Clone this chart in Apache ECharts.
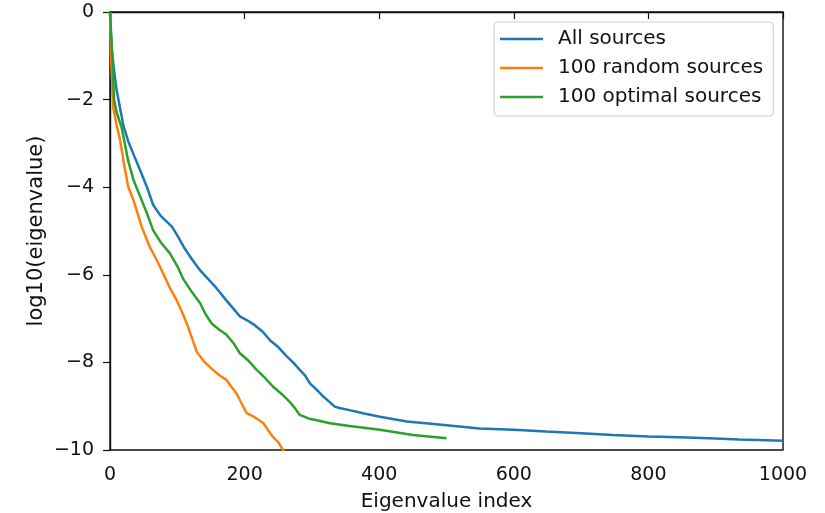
<!DOCTYPE html>
<html>
<head>
<meta charset="utf-8">
<script src="https://cdn.jsdelivr.net/npm/echarts@6/dist/echarts.min.js"></script>
<style>
  html, body { margin: 0; padding: 0; background: #fff; }
  #chart { width: 825px; height: 513px; }
</style>
</head>
<body>
<div id="chart"></div>
<script>
// series names
const seriesNames = ['All sources', '100 random sources', '100 optimal sources']

// All sources
const allX = [0, 1, 3, 5, 7, 10, 15, 20, 27, 35, 47, 55, 64, 75, 92, 100, 111, 122, 134, 146,
  158, 171, 182, 193, 205, 215, 227, 238, 250, 262, 272, 282, 290, 297, 307, 317, 326, 334, 341, 356,
  376, 401, 441, 485, 549, 600, 648, 700, 747, 800, 846, 900, 935, 1000]
const allY = [0, -0.4, -0.9, -1.2, -1.45, -1.8, -2.2, -2.6, -2.95, -3.25, -3.7, -4.0, -4.4, -4.65, -4.9, -5.1, -5.4, -5.65, -5.9, -6.1,
  -6.3, -6.55, -6.75, -6.95, -7.05, -7.15, -7.3, -7.5, -7.65, -7.85, -8.0, -8.17, -8.3, -8.48, -8.62, -8.78, -8.9, -9.01, -9.04, -9.09,
  -9.16, -9.24, -9.35, -9.41, -9.51, -9.54, -9.58, -9.62, -9.66, -9.69, -9.71, -9.74, -9.76, -9.79]

// 100 random sources
const randomX = [0, 2, 5, 10, 15, 20, 27, 35, 47, 59, 69, 79, 89, 99, 107, 114, 122, 129, 141, 153,
  163, 173, 180, 188, 196, 203, 215, 228, 235, 242, 250, 257, 262]
const randomY = [0, -1.2, -2.2, -2.6, -2.92, -3.4, -3.99, -4.3, -4.9, -5.36, -5.65, -5.97, -6.3, -6.58, -6.85, -7.11, -7.45, -7.76, -8.0, -8.17,
  -8.3, -8.4, -8.55, -8.71, -8.95, -9.16, -9.25, -9.39, -9.55, -9.7, -9.82, -10.0, -10.1]

// 100 optimal sources
const optimalX = [0, 2, 4, 6, 10, 17, 22, 27, 35, 45, 55, 64, 75, 89, 100, 109, 122, 134, 142, 151,
  162, 173, 183, 193, 205, 218, 230, 242, 255, 267, 275, 282, 295, 307, 327, 356, 401, 450, 500]
const optimalY = [0, -0.6, -1.2, -2.0, -2.3, -2.62, -3.0, -3.4, -3.84, -4.22, -4.6, -4.98, -5.25, -5.51, -5.8, -6.1, -6.4, -6.65, -6.9, -7.11,
  -7.25, -7.37, -7.55, -7.79, -7.95, -8.17, -8.35, -8.55, -8.72, -8.9, -9.05, -9.2, -9.28, -9.32, -9.39, -9.45, -9.54, -9.66, -9.73]

const colorList = ['#1f77b4', '#ff7f0e', '#2ca02c']
const font = 'DejaVu Sans'

const zip = (xs, ys) => xs.map((x, i) => [x, ys[i]])

const chart = echarts.init(document.getElementById('chart'))
chart.setOption({
  animation: false,
  grid: {
    left: 110,
    right: 42,
    top: 12,
    bottom: 63,
    outerBoundsMode: 'none',
    containLabel: false,
    show: true,
    borderColor: '#111',
    borderWidth: 1.4
  },
  legend: {
    orient: 'vertical',
    left: 494,
    top: 22,
    icon: 'rect',
    itemWidth: 43,
    itemHeight: 2.5,
    itemGap: 9,
    padding: [7, 10, 9, 6],
    borderColor: '#cccccc',
    borderWidth: 1,
    borderRadius: 4,
    backgroundColor: '#fff',
    textStyle: {
      fontFamily: font,
      fontSize: 20,
      color: '#111',
      padding: [0, 0, 0, 10]
    },
    data: seriesNames
  },
  xAxis: {
    type: 'value',
    min: 0,
    max: 1000,
    interval: 200,
    name: 'Eigenvalue index',
    nameLocation: 'middle',
    nameGap: 42,
    nameMoveOverlap: false,
    nameTextStyle: { fontFamily: font, fontSize: 20, color: '#111' },
    axisLine: { lineStyle: { color: '#111', width: 1.4 } },
    axisTick: { length: 7, lineStyle: { color: '#111', width: 1.2 } },
    axisLabel: {
      fontFamily: font,
      fontSize: 19,
      color: '#111',
      margin: 16,
      formatter: v => String(v)
    },
    splitLine: { show: false }
  },
  yAxis: {
    type: 'value',
    min: -10,
    max: 0,
    interval: 2,
    name: 'log10(eigenvalue)',
    nameLocation: 'middle',
    nameGap: 63,
    nameMoveOverlap: false,
    nameTextStyle: { fontFamily: font, fontSize: 21, color: '#111' },
    axisLine: { show: true, lineStyle: { color: '#111', width: 1.4 } },
    axisTick: { show: true, length: 7, lineStyle: { color: '#111', width: 1.2 } },
    axisLabel: {
      fontFamily: font,
      fontSize: 19,
      color: '#111',
      margin: 16,
      formatter: v => (v < 0 ? '\u2212' + (-v) : String(v))
    },
    splitLine: { show: false }
  },
  series: [
    { name: seriesNames[0], type: 'line', data: zip(allX, allY) },
    { name: seriesNames[1], type: 'line', data: zip(randomX, randomY) },
    { name: seriesNames[2], type: 'line', data: zip(optimalX, optimalY) }
  ].map((s, i) => Object.assign(s, {
    symbol: 'none',
    clip: true,
    color: colorList[i],
    lineStyle: { width: 2.5, color: colorList[i] }
  }))
})
</script>
</body>
</html>
